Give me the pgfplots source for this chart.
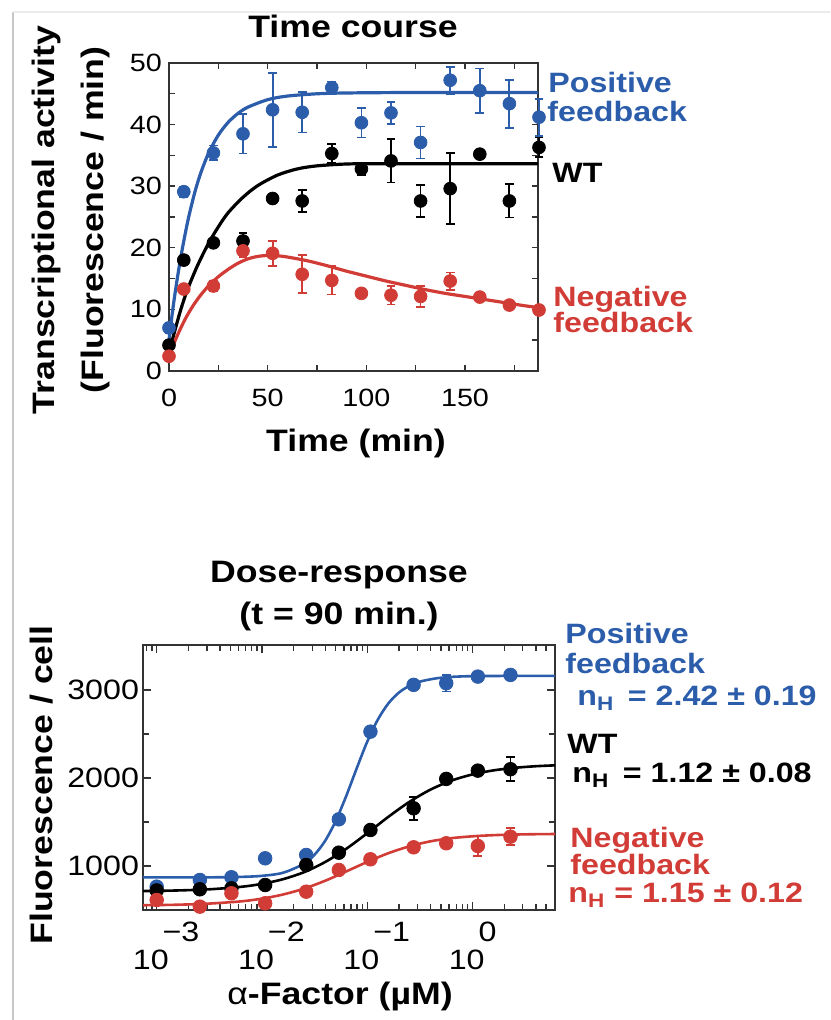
\documentclass[border=0pt]{standalone}
\usepackage{fontspec}
\setmainfont{Liberation Sans}[FakeStretch=1.15]
\usepackage{pgfplots}
\usepackage{pgfplotstable}
\pgfplotsset{compat=1.18}

\definecolor{pfblue}{HTML}{2B5DAB}
\definecolor{nfred}{HTML}{D23C36}

\newcommand{\tickA}{\fontsize{12.5}{14}\selectfont}
\newcommand{\tickB}{\fontsize{14}{16}\selectfont}
\newcommand{\labfont}{\fontsize{15.5}{18}\selectfont\bfseries}
\newcommand{\annfont}{\fontsize{14}{14.5}\selectfont\bfseries}
% 10^x tick label: "10" low, exponent raised to the right
\newcommand{\explab}[1]{\makebox[0pt][l]{\hspace{6pt}\makebox[0pt][r]{10}\hspace{-3pt}\raisebox{14pt}{#1}}}

% ---- time course (t in min, activity, error)
\pgfplotstableread{
t v e
0 7.0 0.8
7.5 29.1 0.8
22.5 35.4 1.2
37.5 38.5 3.2
52.5 42.4 6.0
67.5 42.0 3.3
82.5 46.0 1.0
97.5 40.3 2.4
112.5 41.9 1.8
127.5 37.1 2.6
142.5 47.2 2.2
157.5 45.5 3.6
172.5 43.4 3.9
187.5 41.2 3.0
}\tcpos
\pgfplotstableread{
t v e
0 4.2 0.5
7.5 18.0 0.5
22.5 20.8 0.6
37.5 21.1 1.3
52.5 28.0 0.5
67.5 27.6 1.8
82.5 35.3 1.6
97.5 32.8 1.0
112.5 34.1 3.5
127.5 27.6 2.6
142.5 29.6 5.8
157.5 35.2 0.5
172.5 27.6 2.7
187.5 36.3 1.6
}\tcwt
\pgfplotstableread{
t v e
0 2.4 0.5
7.5 13.3 0.5
22.5 13.8 0.8
37.5 19.5 1.0
52.5 19.1 2.0
67.5 15.7 3.1
82.5 14.7 2.3
97.5 12.6 0.5
112.5 12.3 1.5
127.5 12.1 1.7
142.5 14.6 1.4
157.5 12.0 0.5
172.5 10.7 0.5
187.5 9.9 0.5
}\tcneg
% fitted curves
\pgfplotstableread{
t v
0 5.0
2 10.2
4 14.6
6 18.5
8 21.93
10 25.03
13 28.92
16 32.06
20 35.32
25 38.29
30 40.37
35 41.82
40 42.83
50 44.04
60 44.63
75 45.0
90 45.13
120 45.2
187 45.2
}\tcposfit
\pgfplotstableread{
t v
0 3.0
3 6.6
6 10.0
9 12.9
12 15.3
15 17.5
20 20.7
25 23.4
30 25.7
37.5 28.2
45 30.1
55 31.8
65 32.8
75 33.3
90 33.6
110 33.65
187 33.65
}\tcwtfit
\pgfplotstableread{
t v
0 2.5
4 5.6
8 8.3
12 10.5
16 12.3
20 13.8
25 15.3
30 16.5
35 17.5
40 18.2
45 18.6
50 18.75
55 18.7
60 18.5
70 17.9
80 17.1
90 16.2
100 15.4
110 14.6
120 13.9
130 13.2
140 12.6
150 12.1
160 11.6
170 11.1
180 10.6
187 10.3
}\tcnegfit

% ---- dose response (L = log10 alpha-factor in uM, fluorescence, error)
\pgfplotstableread{
L v e
-3.0 765 30
-2.59 841 30
-2.29 872 30
-1.97 1087 30
-1.58 1125 30
-1.27 1530 30
-0.97 2526 40
-0.56 3057 30
-0.25 3076 95
0.05 3151 30
0.36 3170 30
}\drpos
\pgfplotstableread{
L v e
-3.0 722 30
-2.59 735 30
-2.29 746 30
-1.97 784 30
-1.58 1011 30
-1.27 1151 30
-0.97 1409 30
-0.56 1655 133
-0.25 1989 30
0.05 2083 40
0.36 2099 136
}\drwt
\pgfplotstableread{
L v e
-3.0 614 30
-2.59 538 30
-2.29 690 30
-1.97 576 30
-1.58 708 30
-1.27 955 30
-0.97 1076 30
-0.56 1212 30
-0.25 1258 30
0.05 1227 114
0.36 1333 95
}\drneg
\pgfplotstableread{
L v
-3.13 870
-2.5 871
-2.2 876
-2.0 888
-1.8 923
-1.6 1026
-1.5 1129
-1.4 1286
-1.3 1510
-1.2 1795
-1.1 2110
-1.0 2413
-0.9 2662
-0.8 2846
-0.7 2969
-0.6 3046
-0.5 3094
-0.3 3138
0.0 3156
0.783 3160
}\drposfit
\pgfplotstableread{
L v
-3.13 715
-2.8 722
-2.5 735
-2.2 763
-2.0 797
-1.8 850
-1.6 930
-1.4 1045
-1.2 1195
-1.0 1372
-0.8 1558
-0.6 1728
-0.4 1867
-0.2 1970
0.0 2040
0.2 2086
0.4 2115
0.6 2133
0.783 2143
}\drwtfit
\pgfplotstableread{
L v
-3.13 554
-2.8 560
-2.5 573
-2.2 598
-2.0 629
-1.8 676
-1.6 743
-1.4 832
-1.2 938
-1.0 1046
-0.8 1145
-0.6 1223
-0.4 1280
-0.2 1316
0.0 1337
0.2 1350
0.4 1357
0.6 1361
0.783 1363
}\drnegfit

\pgfplotsset{
  panel/.style={
    scale only axis, anchor=south west, clip=false,
    axis line style={black!80, line width=0.8pt},
    tick style={black!80, line width=0.7pt},
    tick align=inside,
    /pgf/number format/assume math mode=true,
    /pgf/number format/1000 sep={},
    scaled ticks=false,
  },
  fit/.style={line width=1.6pt, no markers, smooth},
  pts/.style={only marks, mark=*, mark size=3.2pt,
    error bars/y dir=both, error bars/y explicit,
    error bars/error bar style={line width=0.9pt},
    error bars/error mark options={rotate=90, mark size=2.2pt, line width=0.9pt}},
}

\begin{document}
\begin{tikzpicture}
\useasboundingbox (0,0) rectangle (415pt,510pt);
\draw[black!22, line width=1pt] (6.5pt,0) -- (6.5pt,504pt);
\draw[black!8, line width=0.8pt] (6.5pt,504pt) -- (415pt,504pt);

% ---------------- Time course
\begin{axis}[panel,
  at={(84.5pt,324.5pt)}, width=184.5pt, height=154pt,
  xmin=0, xmax=187, ymin=0, ymax=50,
  xtick={0,50,100,150}, minor xtick={25,75,125,175},
  ytick={0,10,...,50}, minor ytick={5,15,...,45},
  major tick length=3pt, minor tick length=3pt,
  ticklabel style={font=\tickA},
  xticklabel style={yshift=-5.5pt},
]
\addplot[fit, black] table[x=t, y=v] {\tcwtfit};
\addplot[fit, pfblue] table[x=t, y=v] {\tcposfit};
\addplot[fit, nfred] table[x=t, y=v] {\tcnegfit};
\addplot[pts, black] table[x=t, y=v, y error=e] {\tcwt};
\addplot[pts, pfblue] table[x=t, y=v, y error=e] {\tcpos};
\addplot[pts, nfred] table[x=t, y=v, y error=e] {\tcneg};
\end{axis}

% ---------------- Dose response
\begin{axis}[panel,
  at={(71.5pt,55pt)}, width=206pt, height=132.5pt,
  xmin=-3.13, xmax=0.783, ymin=500, ymax=3510,
  xtick={-3,-2,-1,0},
  xticklabels={{\explab{−3}},{\explab{−2}},{\explab{−1}},{\explab{0}}},
  minor xtick={-3.097,-3.046,
    -2.699,-2.523,-2.398,-2.301,-2.222,-2.155,-2.097,-2.046,
    -1.699,-1.523,-1.398,-1.301,-1.222,-1.155,-1.097,-1.046,
    -0.699,-0.523,-0.398,-0.301,-0.222,-0.155,-0.097,-0.046,
    0.301,0.477,0.602,0.699,0.778},
  ytick={1000,2000,3000}, minor ytick={1500,2500},
  major tick length=4pt, minor tick length=3pt,
  ticklabel style={font=\tickB},
  xticklabel style={anchor=north, inner sep=0pt, yshift=-6pt},
  yticklabel style={xshift=1.5pt},
]
\addplot[fit, line width=1.3pt, black] table[x=L, y=v] {\drwtfit};
\addplot[fit, line width=1.3pt, pfblue] table[x=L, y=v] {\drposfit};
\addplot[fit, line width=1.3pt, nfred] table[x=L, y=v] {\drnegfit};
\addplot[pts, mark size=3.4pt, pfblue] table[x=L, y=v, y error=e] {\drpos};
\addplot[pts, mark size=3.4pt, black] table[x=L, y=v, y error=e] {\drwt};
\addplot[pts, mark size=3.4pt, nfred] table[x=L, y=v, y error=e] {\drneg};
\end{axis}

% ---------------- titles and axis labels
\node[font=\labfont, anchor=base] at (176.5pt,491pt) {Time course};
\node[font=\labfont, anchor=base] at (178pt,284pt) {Time (min)};
\node[font=\labfont, anchor=base, rotate=90] at (27pt,400pt) {Transcriptional activity};
\node[font=\labfont, anchor=base, rotate=90] at (51.5pt,400pt) {(Fluorescence / min)};

\node[font=\labfont, anchor=base] at (169.5pt,218.5pt) {Dose-response};
\node[font=\labfont, anchor=base] at (169.5pt,197.5pt) {(t = 90 min.)};
\node[font=\labfont, anchor=base] at (170pt,7.5pt) {{\mdseries α}-Factor (µM)};
\node[font=\labfont, anchor=base, rotate=90] at (26pt,117.5pt) {Fluorescence / cell};

% ---------------- series annotations
\begin{scope}[every node/.style={font=\annfont, anchor=base west, inner sep=0pt}]
\node[pfblue] at (274pt,463.5pt) {Positive};
\node[pfblue] at (273.5pt,449pt) {feedback};
\node[black] at (276pt,418.5pt) {WT};
\node[nfred] at (276.5pt,356.5pt) {Negative};
\node[nfred] at (276.5pt,343.5pt) {feedback};

\node[pfblue] at (282.5pt,188pt) {Positive};
\node[pfblue] at (282.5pt,173pt) {feedback};
\node[pfblue] at (288.5pt,157pt) {n\textsubscript{H} \,= 2.42 ± 0.19};
\node[black] at (283.5pt,133pt) {WT};
\node[black] at (286pt,118.5pt) {n\textsubscript{H} \,= 1.12 ± 0.08};
\node[nfred] at (285pt,86pt) {Negative};
\node[nfred] at (285pt,72.5pt) {feedback};
\node[nfred] at (284pt,58.5pt) {n\textsubscript{H} = 1.15 ± 0.12};
\end{scope}
\end{tikzpicture}
\end{document}
